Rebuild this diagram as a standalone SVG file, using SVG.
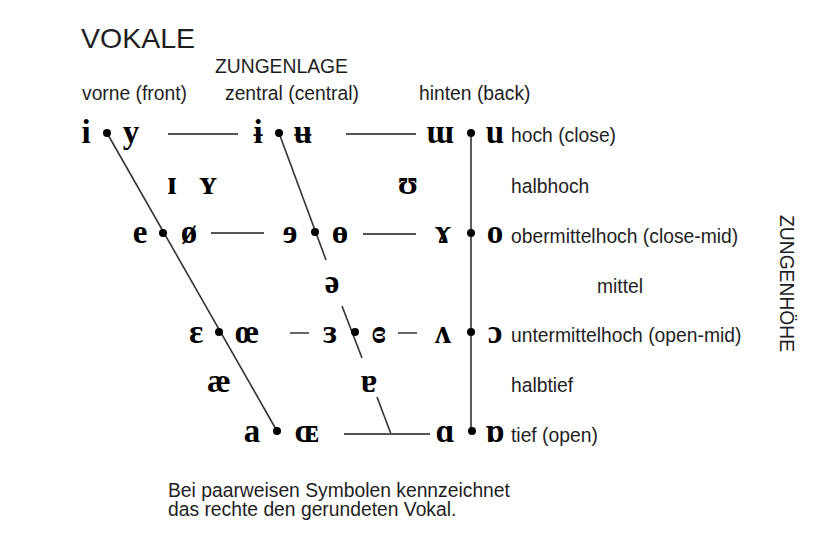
<svg xmlns="http://www.w3.org/2000/svg" width="818" height="557" viewBox="0 0 818 557">
<style>
.t{font-family:"Liberation Sans",Arial,sans-serif;font-size:19.3px;fill:#1e1e1e}
.h{font-family:"Liberation Sans",Arial,sans-serif;font-size:28.5px;fill:#1e1e1e}
.p{font-family:"Liberation Serif","DejaVu Serif",serif;font-size:33px;font-weight:bold;fill:#000;text-anchor:middle}
.c line{stroke:#333;stroke-width:1.6;fill:none}
.c line.hz{stroke:#555;stroke-width:1.8}
.d{fill:#000}
</style>
<rect width="818" height="557" fill="#fff"/>
<g id="titles">
<text class="h" x="81" y="48">VOKALE</text>
<text class="t" x="215" y="73">ZUNGENLAGE</text>
<text class="t" x="82" y="100">vorne (front)</text>
<text class="t" x="225" y="100">zentral (central)</text>
<text class="t" x="419" y="100">hinten (back)</text>
<text class="t" x="780" y="215" transform="rotate(90 780 215)">ZUNGENHÖHE</text>
</g>
<g id="height-labels">
<text class="t" x="511" y="142">hoch (close)</text>
<text class="t" x="511" y="193">halbhoch</text>
<text class="t" x="511" y="243">obermittelhoch (close-mid)</text>
<text class="t" x="597" y="293">mittel</text>
<text class="t" x="511" y="342">untermittelhoch (open-mid)</text>
<text class="t" x="511" y="392">halbtief</text>
<text class="t" x="511" y="442">tief (open)</text>
</g>
<g id="connectors" class="c">
<line x1="107" y1="133" x2="277" y2="431"/>
<line x1="279" y1="133" x2="326" y2="260"/>
<line x1="342" y1="306" x2="362" y2="358"/>
<line x1="377" y1="397" x2="391" y2="434"/>
<line x1="471" y1="133" x2="471" y2="431"/>
<line class="hz" x1="168" y1="134" x2="238" y2="134"/>
<line class="hz" x1="346" y1="134" x2="416" y2="134"/>
<line class="hz" x1="211" y1="233" x2="264" y2="233"/>
<line class="hz" x1="363" y1="234" x2="416" y2="234"/>
<line class="hz" x1="290" y1="333" x2="309" y2="333"/>
<line class="hz" x1="398" y1="333" x2="417" y2="333"/>
<line class="hz" x1="344" y1="434" x2="430" y2="434"/>
</g>
<g id="v-front-close"><text class="p" x="86" y="143">i</text><circle class="d" cx="107" cy="133" r="4"/><text class="p" x="131" y="143">y</text></g>
<g id="v-central-close"><text class="p" x="258" y="143">ɨ</text><circle class="d" cx="279" cy="133" r="4"/><text class="p" x="303" y="143">ʉ</text></g>
<g id="v-back-close"><text class="p" x="440" y="143">ɯ</text><circle class="d" cx="471" cy="133" r="4"/><text class="p" x="495" y="143">u</text></g>
<g id="v-near-close"><text class="p" x="172" y="194">ɪ</text><text class="p" x="208" y="194">ʏ</text><text class="p" x="408" y="194">ʊ</text></g>
<g id="v-front-closemid"><text class="p" x="140" y="243">e</text><circle class="d" cx="163" cy="233" r="4"/><text class="p" x="189" y="243">ø</text></g>
<g id="v-central-closemid"><text class="p" x="290" y="243">ɘ</text><circle class="d" cx="315" cy="232" r="4"/><text class="p" x="340" y="243">ɵ</text></g>
<g id="v-back-closemid"><text class="p" x="443" y="243">ɤ</text><circle class="d" cx="471" cy="233" r="4"/><text class="p" x="495" y="243">o</text></g>
<g id="v-mid"><text class="p" x="332" y="293">ə</text></g>
<g id="v-front-openmid"><text class="p" x="196" y="343">ɛ</text><circle class="d" cx="219" cy="332" r="4"/><text class="p" x="247" y="343">œ</text></g>
<g id="v-central-openmid"><text class="p" x="330" y="343">ɜ</text><circle class="d" cx="355" cy="332" r="4"/><text class="p" x="379" y="343">ɞ</text></g>
<g id="v-back-openmid"><text class="p" x="443" y="343">ʌ</text><circle class="d" cx="471" cy="332" r="4"/><text class="p" x="495" y="343">ɔ</text></g>
<g id="v-near-open"><text class="p" x="219" y="392">æ</text><text class="p" x="369" y="392">ɐ</text></g>
<g id="v-front-open"><text class="p" x="252" y="442">a</text><circle class="d" cx="277" cy="431" r="4"/><text class="p" x="307" y="442">ɶ</text></g>
<g id="v-back-open"><text class="p" x="445" y="442">ɑ</text><circle class="d" cx="472" cy="431" r="4"/><text class="p" x="495" y="442">ɒ</text></g>
<g id="note">
<text class="t" x="168" y="497">Bei paarweisen Symbolen kennzeichnet</text>
<text class="t" x="168" y="516">das rechte den gerundeten Vokal.</text>
</g>
</svg>
